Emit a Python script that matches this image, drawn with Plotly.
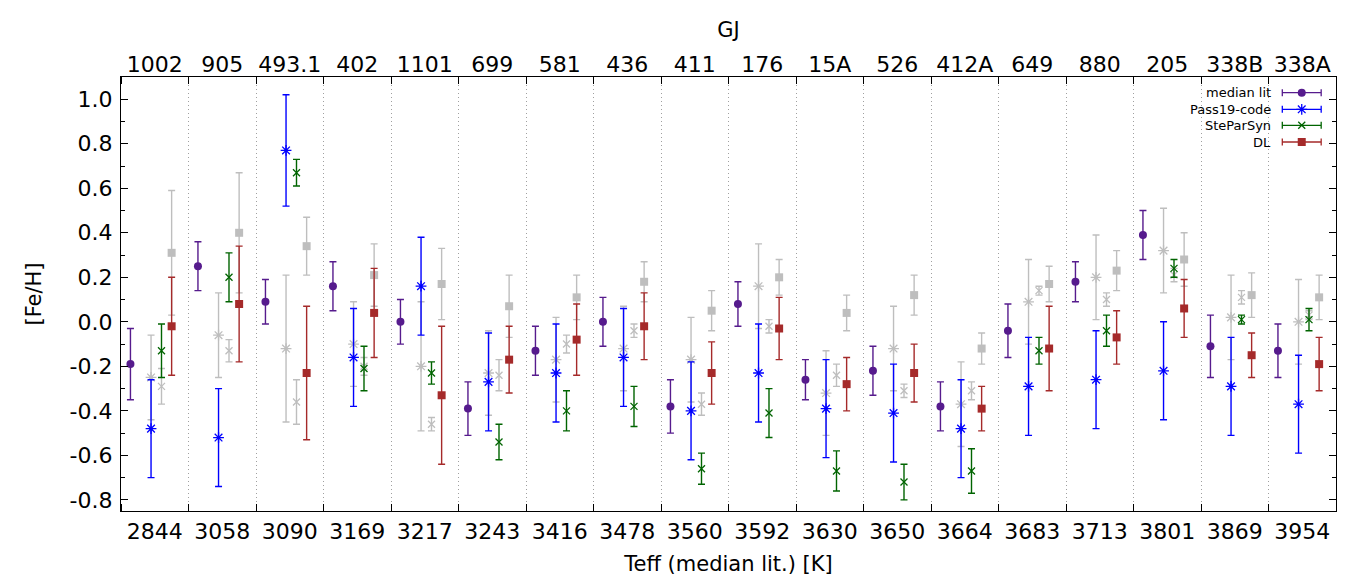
import numpy as np
import plotly.graph_objects as go

# --- data ---
TEFF = ["2844", "3058", "3090", "3169", "3217", "3243", "3416", "3478", "3560",
        "3592", "3630", "3650", "3664", "3683", "3713", "3801", "3869", "3954"]
GJ = ["1002", "905", "493.1", "402", "1101", "699", "581", "436", "411",
      "176", "15A", "526", "412A", "649", "880", "205", "338B", "338A"]

MED = [-0.19, 0.25, 0.09, 0.16, 0.00, -0.39, -0.13, 0.00, -0.38,
       0.08, -0.26, -0.22, -0.38, -0.04, 0.18, 0.39, -0.11, -0.13]
MED_ERR = [0.16, 0.11, 0.10, 0.11, 0.10, 0.12, 0.11, 0.11, 0.12,
           0.10, 0.09, 0.11, 0.11, 0.12, 0.09, 0.11, 0.14, 0.12]

PASS = [-0.48, -0.52, 0.77, -0.16, 0.16, -0.27, -0.23, -0.16, -0.40,
        -0.23, -0.39, -0.41, -0.48, -0.29, -0.26, -0.22, -0.29, -0.37]
PASS_ERR = [0.22, 0.22, 0.25, 0.22, 0.22, 0.22, 0.22, 0.22, 0.22,
            0.22, 0.22, 0.22, 0.22, 0.22, 0.22, 0.22, 0.22, 0.22]
PASS_OLD = [-0.25, -0.06, -0.12, -0.10, -0.20, -0.23, -0.17, -0.12, -0.17,
            0.16, -0.32, -0.12, -0.37, 0.09, 0.20, 0.32, 0.02, 0.00]
PASS_OLD_ERR = [0.19, 0.19, 0.33, 0.19, 0.29, 0.19, 0.19, 0.19, 0.19,
                0.19, 0.19, 0.19, 0.19, 0.19, 0.19, 0.19, 0.19, 0.19]

SPS = [-0.13, 0.20, 0.67, -0.21, -0.23, -0.54, -0.40, -0.38, -0.66,
       -0.41, -0.67, -0.72, -0.67, -0.13, -0.04, 0.24, 0.01, 0.01]
SPS_ERR = [0.12, 0.11, 0.06, 0.10, 0.05, 0.08, 0.09, 0.09, 0.07,
           0.11, 0.09, 0.08, 0.10, 0.06, 0.07, 0.04, 0.02, 0.05]
SPS_OLD = [-0.29, -0.13, -0.36, -0.20, -0.46, -0.24, -0.10, -0.04, -0.37,
           -0.02, -0.24, -0.31, -0.31, 0.14, 0.10, 0.21, 0.11, 0.03]
SPS_OLD_ERR = [0.08, 0.05, 0.10, 0.04, 0.03, 0.07, 0.04, 0.03, 0.05,
               0.03, 0.05, 0.03, 0.04, 0.02, 0.03, 0.03, 0.03, 0.02]

DL = [-0.02, 0.08, -0.23, 0.04, -0.33, -0.17, -0.08, -0.02, -0.23,
      -0.03, -0.28, -0.23, -0.39, -0.12, -0.07, 0.06, -0.15, -0.19]
DL_ERR = [0.22, 0.26, 0.30, 0.20, 0.31, 0.15, 0.16, 0.15, 0.14,
          0.14, 0.12, 0.13, 0.10, 0.19, 0.12, 0.13, 0.10, 0.12]
DL_OLD = [0.31, 0.40, 0.34, 0.21, 0.17, 0.07, 0.11, 0.18, 0.05,
          0.20, 0.04, 0.12, -0.12, 0.17, 0.23, 0.28, 0.12, 0.11]
DL_OLD_ERR = [0.28, 0.27, 0.13, 0.14, 0.16, 0.14, 0.10, 0.09, 0.09,
              0.08, 0.08, 0.09, 0.07, 0.08, 0.09, 0.12, 0.10, 0.10]

Y_TICKS = [-0.8, -0.6, -0.4, -0.2, 0.0, 0.2, 0.4, 0.6, 0.8, 1.0]

# --- style ---
FONT = "DejaVu Sans"
PURPLE = "#561b8d"
BLUE = "#0000ff"
GREEN = "#006400"
RED = "#a52a2a"
GRAY = "#bebebe"

n = len(TEFF)
idx = np.arange(n)
centers = idx + 0.5
bounds = np.arange(n + 1)

# horizontal position of each series inside a star's slot
OFF_MED, OFF_PASS, OFF_SPS, OFF_DL = 0.14, 0.445, 0.60, 0.75


def series(x, y, err, color, symbol, size, lw=1.3):
    return go.Scatter(
        x=x, y=y, mode="markers", showlegend=False, hoverinfo="skip",
        marker=dict(symbol=symbol, size=size, color=color,
                    line=dict(color=color, width=lw)),
        error_y=dict(type="data", array=err, color=color, thickness=1.4, width=3.5),
    )


fig = go.Figure()

# grey (previous) results first, coloured ones on top
fig.add_trace(series(idx + OFF_PASS, PASS_OLD, PASS_OLD_ERR, GRAY, "asterisk-open", 9))
fig.add_trace(series(idx + OFF_SPS, SPS_OLD, SPS_OLD_ERR, GRAY, "x-thin-open", 7))
fig.add_trace(series(idx + OFF_DL, DL_OLD, DL_OLD_ERR, GRAY, "square", 8, 0))

fig.add_trace(series(idx + OFF_MED, MED, MED_ERR, PURPLE, "circle", 8, 0))
fig.add_trace(series(idx + OFF_PASS, PASS, PASS_ERR, BLUE, "asterisk-open", 9))
fig.add_trace(series(idx + OFF_SPS, SPS, SPS_ERR, GREEN, "x-thin-open", 7))
fig.add_trace(series(idx + OFF_DL, DL, DL_ERR, RED, "square", 8, 0))

# dummy trace so the top axis gets drawn
fig.add_trace(go.Scatter(x=[0, n], y=[0, 0], xaxis="x2", mode="markers",
                         marker=dict(opacity=0), showlegend=False, hoverinfo="skip"))

# hand-made legend: text on the left, sample on the right (gnuplot style)
LEG_NAMES = ["median lit", "Pass19-code", "SteParSyn", "DL"]
LEG_STYLE = [(PURPLE, "circle", 8, 0), (BLUE, "asterisk-open", 9, 1.3),
             (GREEN, "x-thin-open", 7, 1.3), (RED, "square", 8, 0)]
LEG_X, LEG_HALF = 0.9718, 0.016
LEG_Y = [0.9638, 0.9256, 0.8887, 0.8502]
for name, (c, sym, sz, lw), ly in zip(LEG_NAMES, LEG_STYLE, LEG_Y):
    fig.add_trace(go.Scatter(
        x=[LEG_X], y=[ly], xaxis="x3", yaxis="y3", mode="markers",
        showlegend=False, hoverinfo="skip",
        marker=dict(symbol=sym, size=sz, color=c, line=dict(color=c, width=lw)),
        error_x=dict(type="constant", value=LEG_HALF, color=c, thickness=1.3, width=3.5),
    ))
    fig.add_annotation(x=0.9485, y=ly, xref="x3", yref="y3", text=name,
                       showarrow=False, xanchor="right", yanchor="middle",
                       font=dict(family=FONT, size=13, color="black"))

tick_font = dict(family=FONT, size=22, color="black")
title_font = dict(family=FONT, size=21, color="black")

fig.update_layout(
    width=1360, height=583,
    paper_bgcolor="white", plot_bgcolor="white",
    margin=dict(l=121, r=24, t=77, b=72),
    font=dict(family=FONT, size=21, color="black"),
    xaxis=dict(
        range=[0, n], tickvals=centers, ticktext=TEFF, ticks="",
        tickfont=tick_font, showgrid=False, zeroline=False,
        showline=True, linecolor="black", linewidth=1.2, mirror=True,
        title=dict(text="Teff (median lit.) [K]", font=title_font, standoff=13),
        minor=dict(tickvals=bounds, ticks="inside", ticklen=7, tickcolor="black",
                   tickwidth=1.2, showgrid=True, gridcolor="#a0a0a0",
                   griddash="1px,3px", gridwidth=1),
    ),
    xaxis2=dict(
        range=[0, n], overlaying="x", side="top", tickvals=centers, ticktext=GJ,
        ticks="", tickfont=tick_font, showgrid=False, zeroline=False,
        title=dict(text="GJ", font=title_font, standoff=8),
        minor=dict(tickvals=bounds, ticks="inside", ticklen=7, tickcolor="black",
                   tickwidth=1.2, showgrid=False),
    ),
    yaxis=dict(
        range=[-0.85, 1.1], tickvals=Y_TICKS, ticktext=[f"{v:.1f}" for v in Y_TICKS],
        ticks="inside", ticklen=7, tickwidth=1.2, tickcolor="black",
        tickfont=tick_font, ticklabelstandoff=3, showgrid=False, zeroline=False,
        showline=True, linecolor="black", linewidth=1.2, mirror="ticks",
        title=dict(text="[Fe/H]", font=title_font, standoff=22),
        minor=dict(dtick=0.1, tick0=0, ticks="inside", ticklen=3.5,
                   tickcolor="black", tickwidth=1.2, showgrid=False),
    ),
    xaxis3=dict(domain=[0, 1], range=[0, 1], overlaying="x", visible=False, fixedrange=True),
    yaxis3=dict(domain=[0, 1], range=[0, 1], overlaying="y", visible=False, fixedrange=True),
)

# the page body has an 8px margin by default; drop it so the figure sits at 0,0
fig.write_html("out.html", config={"displayModeBar": False},
               post_script="document.body.style.margin='0';")
